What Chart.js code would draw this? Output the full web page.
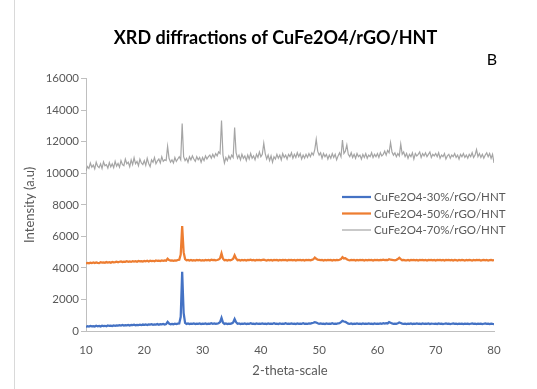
<!DOCTYPE html>
<html>
<head>
<meta charset="utf-8">
<script src="https://cdn.jsdelivr.net/npm/chart.js@4.4.1/dist/chart.umd.min.js"></script>
<style>
  html, body { margin: 0; padding: 0; background: #ffffff; }
  #wrap { position: relative; width: 537px; height: 389px; overflow: hidden; }
  #edge { position: absolute; left: 14px; top: 0; width: 1px; height: 389px; background: #d9d9d9; }
  #xrd { position: absolute; left: 0; top: 0; }
</style>
</head>
<body>
<div id="wrap">
  <div id="edge"></div>
  <canvas id="xrd" width="537" height="389"></canvas>
</div>
<script>
// Diffraction angle sampling (2θ, degrees)
const THETA_START = 10;
const THETA_STEP = 0.25;

const X_TICKS = [10, 20, 30, 40, 50, 60, 70, 80];
const Y_TICKS = [0, 2000, 4000, 6000, 8000, 10000, 12000, 14000, 16000];

const SERIES_LABELS = ['CuFe2O4-30%/rGO/HNT', 'CuFe2O4-50%/rGO/HNT', 'CuFe2O4-70%/rGO/HNT'];

// Intensities (a.u.), one value per 0.25° from 10° to 80°
const cf30 = [
  260,300,280,320,290, 310,280,330,300,320, 290,340,310,330,300, 350,320,340,310,350,
  330,360,340,370,350, 380,340,370,360,390, 350,380,370,400,360, 390,380,400,370,410,
  390,410,380,420,400, 430,390,420,410,440, 400,430,420,450,410, 440,580,470,420,450,
  430,460,440,470,480, 900,3750,1150,520,450, 480,440,470,450,480, 440,470,450,480,440,
  470,450,480,440,470, 450,490,460,480,450, 470,490,560,830,530, 450,480,440,470,450,
  480,540,760,560,460, 480,440,470,450,480, 440,470,460,490,450, 470,440,480,460,470,
  450,480,460,470,440, 480,450,470,460,490, 450,470,440,480,460, 470,450,490,460,470,
  450,480,460,470,440, 480,450,470,460,490, 450,470,460,480,470, 500,520,560,540,490,
  460,480,450,470,440, 480,460,470,450,490, 460,470,450,490,500, 560,640,600,580,520,
  470,450,480,440,470, 450,480,460,470,440, 480,450,470,460,480, 450,470,440,480,460,
  470,450,480,460,490, 470,500,480,560,520, 480,460,470,450,490, 540,510,470,450,470,
  440,470,450,480,440, 470,460,480,450,470, 440,480,460,470,450, 480,440,470,460,450,
  470,440,480,450,470, 440,460,480,450,470, 440,460,480,450,470, 440,460,450,470,440,
  460,450,470,440,460, 480,450,470,440,460, 450,470,440,460,480, 450,460,440,470,450,
  440
];

const cf50 = [
  4280,4310,4290,4330,4300, 4340,4310,4350,4320,4300, 4360,4330,4350,4320,4370, 4340,4360,4330,4380,4350,
  4370,4400,4360,4390,4410, 4370,4400,4380,4420,4390, 4410,4380,4430,4400,4420, 4390,4440,4410,4430,4400,
  4440,4420,4450,4410,4460, 4430,4450,4420,4470,4440, 4460,4430,4470,4450,4480, 4460,4580,4500,4460,4480,
  4450,4480,4460,4500,4520, 4850,6650,5000,4560,4480, 4510,4470,4500,4460,4490, 4470,4510,4480,4500,4470,
  4490,4470,4510,4480,4500, 4470,4520,4490,4510,4480, 4500,4530,4600,4920,4580, 4480,4510,4470,4500,4480,
  4510,4580,4800,4600,4490, 4510,4470,4500,4480,4510, 4470,4500,4490,4520,4480, 4500,4470,4510,4490,4500,
  4480,4510,4520,4490,4470, 4500,4480,4510,4470,4500, 4490,4510,4470,4500,4480, 4510,4490,4500,4470,4510,
  4490,4510,4480,4500,4470, 4510,4490,4500,4480,4510, 4470,4500,4490,4510,4480, 4510,4540,4650,4580,4520,
  4510,4490,4500,4470,4510, 4480,4500,4490,4510,4470, 4500,4480,4510,4490,4520, 4560,4680,4600,4620,4540,
  4500,4480,4510,4490,4500, 4470,4510,4480,4500,4490, 4510,4470,4500,4480,4510, 4490,4500,4470,4510,4490,
  4500,4480,4510,4490,4520, 4500,4510,4490,4550,4520, 4510,4500,4480,4510,4560, 4640,4560,4490,4510,4480,
  4480,4500,4470,4510,4490, 4500,4480,4510,4470,4500, 4490,4510,4480,4500,4470, 4510,4490,4500,4480,4510,
  4470,4500,4490,4510,4480, 4500,4470,4510,4490,4500, 4480,4510,4470,4500,4490, 4470,4500,4480,4510,4490,
  4470,4500,4480,4510,4490, 4470,4500,4480,4510,4490, 4500,4470,4490,4510,4480, 4500,4470,4490,4510,4480,
  4490
];

const cf70 = [
  10150,10420,10300,10650,10380, 10520,10280,10700,10450,10350, 10600,10300,10720,10480,10550, 10330,10680,10400,10600,10350,
  10750,10450,10620,10380,10800, 10550,10480,10900,10600,10700, 10420,10850,10550,10980,10600, 10750,10480,10900,10650,10550,
  10800,10500,10950,10620,10420, 10850,10700,11000,10600,10780, 10900,10650,11050,10750,10850, 10800,11700,10950,10700,10850,
  10650,11000,10750,10900,11050, 10850,13150,11050,10800,10950, 10700,11050,10850,11100,10900, 10750,11050,10850,11000,10700,
  11000,10800,11100,10900,11050, 11150,10950,11200,11000,11250, 11100,11350,11250,13350,11150, 10650,11000,10800,11100,10900,
  11150,11000,12900,11300,10950, 11150,10850,11200,10950,11100, 10800,11150,10900,11250,10950, 11100,10850,11200,11000,11350,
  11050,11200,11900,11250,10900, 11150,10800,11100,10700,11050, 10900,11200,10950,11150,10850, 11250,11000,11150,10900,11200,
  11050,11300,10950,11200,11000, 11300,11050,11250,10900,11150, 10950,11200,11000,11250,11050, 11300,11150,11500,12150,11400,
  11150,11300,10950,11250,11050, 11200,10900,11150,10950,11250, 11000,11200,10850,11100,11300, 11050,12100,11250,11400,11800,
  11200,11050,11300,11000,11200, 10950,11250,11050,11150,10900, 11200,11000,11250,10950,11150, 11050,11300,11000,11200,11050,
  11250,11000,11300,11100,11200, 11400,11150,11450,11300,11950, 11350,11150,11300,11050,11250, 11100,11850,11200,11350,11050,
  11250,10950,11200,11050,11300, 10900,11250,11100,11200,11350, 11000,11250,11100,11300,11050, 11200,11350,11000,11200,11100,
  11250,11050,11300,10950,11150, 11050,11250,10900,11100,11200, 10950,11150,11050,11250,11000, 11150,10900,11200,11050,11250,
  11000,11150,10950,11200,11050, 11300,11000,11150,11500,11050, 11250,11000,11200,10950,11150, 11300,11050,11250,10950,11200,
  10650
];

const theta = cf30.map((_, i) => THETA_START + i * THETA_STEP);
const toPoints = vals => vals.map((v, i) => ({ x: theta[i], y: v }));

const FONT = 'Lato, "Liberation Sans", sans-serif';
const TEXT_GREY = '#595959';
const AXIS_GREY = '#bfbfbf';

// Letter tag and in-plot legend
const figureExtras = {
  id: 'figureExtras',
  afterDraw(chart, args, opts) {
    const ctx = chart.ctx;
    ctx.save();
    ctx.fillStyle = '#000000';
    ctx.font = `${opts.letterSize}px ${FONT}`;
    ctx.textAlign = 'center';
    ctx.textBaseline = 'middle';
    ctx.fillText(opts.letter, opts.letterX, opts.letterY);

    ctx.font = `${opts.legendSize}px ${FONT}`;
    ctx.textAlign = 'left';
    chart.data.datasets.forEach((ds, i) => {
      const y = opts.legendY + i * opts.legendRow;
      ctx.strokeStyle = ds.borderColor;
      ctx.lineWidth = ds.borderWidth;
      ctx.beginPath();
      ctx.moveTo(opts.legendX, y);
      ctx.lineTo(opts.legendX + opts.legendLine, y);
      ctx.stroke();
      ctx.fillStyle = TEXT_GREY;
      ctx.fillText(ds.label, opts.legendX + opts.legendLine + 3, y + 0.5);
    });
    ctx.restore();
  }
};

new Chart(document.getElementById('xrd'), {
  type: 'line',
  data: {
    datasets: [
      { label: SERIES_LABELS[0], data: toPoints(cf30), borderColor: '#4472c4', borderWidth: 2.25 },
      { label: SERIES_LABELS[1], data: toPoints(cf50), borderColor: '#ed7d31', borderWidth: 2.25 },
      { label: SERIES_LABELS[2], data: toPoints(cf70), borderColor: '#a5a5a5', borderWidth: 1.2 }
    ]
  },
  plugins: [figureExtras],
  options: {
    responsive: false,
    animation: false,
    devicePixelRatio: 1,
    elements: { point: { radius: 0 }, line: { tension: 0 } },
    layout: { padding: { left: 14, right: 0, top: 0, bottom: 0 } },
    plugins: {
      legend: { display: false },
      tooltip: { enabled: false },
      title: {
        display: true,
        text: 'XRD diffractions of CuFe2O4/rGO/HNT',
        color: '#000000',
        font: { family: FONT, size: 18, weight: 'bold' },
        padding: { top: 27, bottom: 30 }
      },
      figureExtras: {
        letter: 'B', letterX: 492, letterY: 60, letterSize: 16,
        legendX: 342, legendY: 197, legendRow: 16.5, legendLine: 29, legendSize: 11.5
      }
    },
    scales: {
      x: {
        type: 'linear',
        min: 10, max: 80,
        afterFit: s => { s.height = 58; },
        afterBuildTicks: s => { s.ticks = X_TICKS.map(v => ({ value: v })); },
        grid: { display: false, drawTicks: false },
        border: { display: true, color: AXIS_GREY, width: 1 },
        ticks: { color: TEXT_GREY, font: { family: FONT, size: 11.5 }, padding: 12, maxRotation: 0 },
        title: {
          display: true, text: '2-theta-scale', color: TEXT_GREY,
          font: { family: FONT, size: 13 }, padding: { top: 0, bottom: 10 }
        }
      },
      y: {
        min: 0, max: 16000,
        afterFit: s => { s.width = 72; },
        afterBuildTicks: s => { s.ticks = Y_TICKS.map(v => ({ value: v })); },
        grid: { display: true, drawOnChartArea: false, drawTicks: true, tickLength: 5, color: AXIS_GREY },
        border: { display: true, color: AXIS_GREY, width: 1 },
        ticks: { color: TEXT_GREY, font: { family: FONT, size: 11.5 }, padding: 2, callback: v => String(v) },
        title: {
          display: true, text: 'Intensity (a.u)', color: TEXT_GREY,
          font: { family: FONT, size: 13 }, padding: { top: 8, bottom: 0 }
        }
      },
      yRight: {
        position: 'right',
        display: true,
        afterFit: s => { s.width = 43; },
        grid: { display: false },
        border: { display: false },
        ticks: { display: false }
      }
    }
  }
});
</script>
</body>
</html>
